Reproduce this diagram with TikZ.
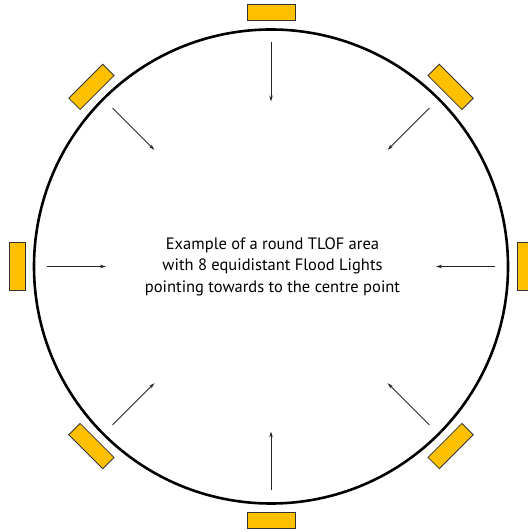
\documentclass[tikz,border=0pt]{standalone}
\usepackage{fontspec}
\setmainfont{PT Sans}
\usetikzlibrary{arrows.meta}
\definecolor{lampyellow}{HTML}{FFC000}
\tikzset{
  lamp/.style={draw=black!80,line width=0.8pt,fill=lampyellow,minimum width=48pt,minimum height=16pt,inner sep=0pt},
  beam/.style={draw=black!85,line width=0.8pt,-{Stealth[length=6pt,width=3.5pt]}}
}
\begin{document}
\begin{tikzpicture}[x=1pt,y=1pt]
  \useasboundingbox (0,0) rectangle (527,532);
  \begin{scope}[shift={(271,265.5)}]
  % landing area
  \draw[line width=2.6pt] (0,0) circle (237);
  % flood lights and their beams
  \foreach \i/\a in {1/90,2/45,3/0,4/-45,5/-90,6/-135,7/180,8/135}{
    \node[lamp,rotate=\a-90] (lamp\i) at (\a:254) {};
    \coordinate (s\i) at (\a:224);
    \coordinate (e\i) at (\a:165);
    \draw[beam] (s\i) -- (e\i);
  }
  \node[align=center,font=\fontsize{16.5}{21.5}\selectfont] (label) at (1.5,0)
    {Example of a round TLOF area\\with 8 equidistant Flood Lights\\pointing towards to the centre point};
  \end{scope}
\end{tikzpicture}
\end{document}
